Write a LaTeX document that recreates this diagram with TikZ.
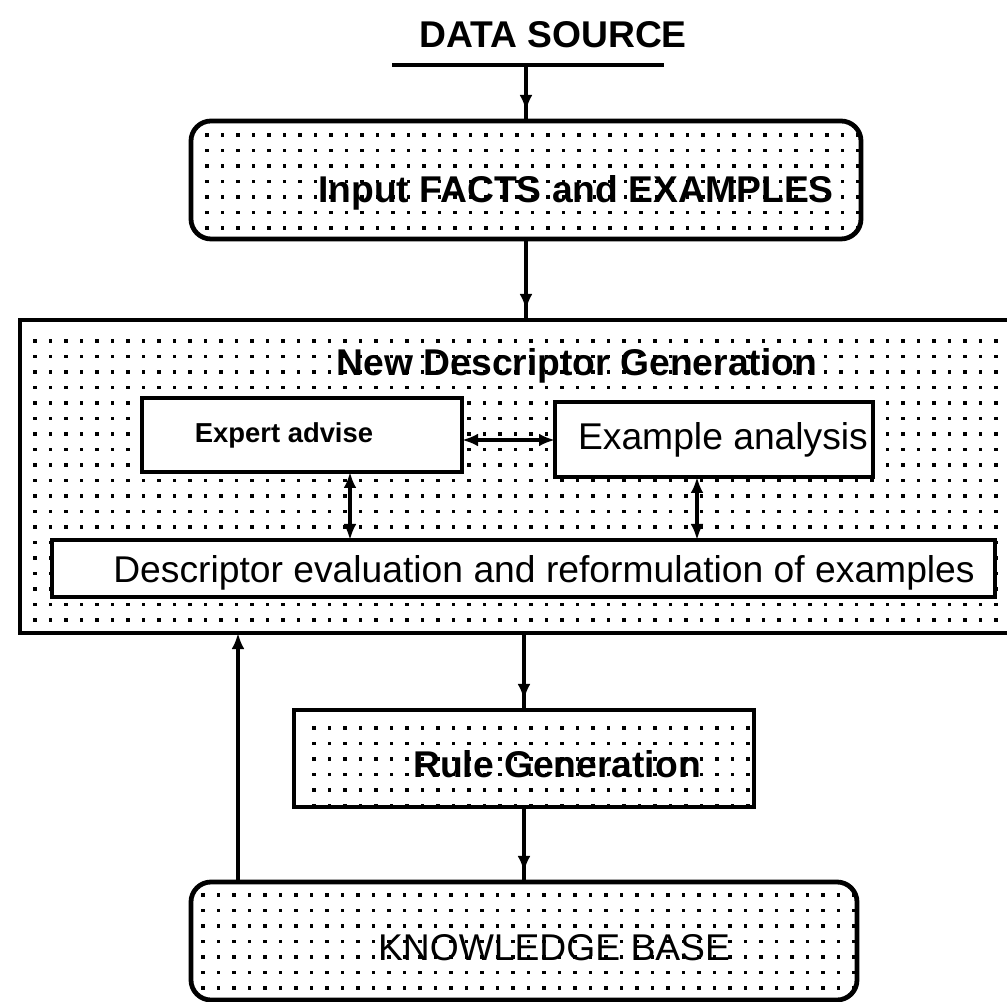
\documentclass[tikz,border=0pt]{standalone}
\usepackage{fontspec}
\setmainfont{Liberation Sans}
\usetikzlibrary{arrows.meta}

\begin{document}
\begin{tikzpicture}[x=0.25mm, y=-0.25mm,
  % heavy frames of the main stages
  frame/.style={draw, line width=3.4pt, fill=white, inner sep=0pt, outer sep=0pt},
  % thin white boxes inside the descriptor stage
  inbox/.style={draw, line width=2.4pt, fill=white, inner sep=0pt, outer sep=0pt},
  % screened background: a grid of small square dots clipped to the shape
  dots/.style n args={4}{path picture={
      \foreach \i in {0,...,#1}{\foreach \j in {0,...,#2}{
        \fill[black, sharp corners] ([shift={({\i*3.875mm+#3*0.25mm-0.4mm},{-\j*3.875mm-#4*0.25mm+0.4mm})}]path picture bounding box.north west)
          rectangle ++(0.8mm,-0.8mm);}}}},
  lbl/.style={anchor=base, inner sep=0pt, font=\fontsize{26.5}{30}\selectfont},
  blbl/.style={lbl, font=\fontsize{26.5}{30}\selectfont\bfseries},
  tip/.tip={Latex[length=4mm,width=3.2mm]},
  flow/.style={line width=2.2pt, postaction={draw, line width=2.2pt, -tip, shorten >=2.5mm}},
  link/.style={line width=2.2pt, tip-tip}
]
\useasboundingbox (0,0) rectangle (1007,1002);
\clip (0,0) rectangle (1007,1002);

% ---- title ----
\node[blbl] (ds) at (553,48) {DATA SOURCE};
\coordinate (dsl) at (392,65);
\coordinate (dsr) at (664,65);
\draw[line width=3.4pt] (dsl) -- (dsr);

% ---- input stage ----
\node[frame, rounded corners=5mm, minimum width=167.5mm, minimum height=29.5mm,
      dots={43}{7}{16}{14}] (input) at (526,180) {};
\node[blbl] (inputtxt) at (576,203) {Input FACTS and EXAMPLES};

% ---- descriptor generation stage ----
\node[frame, minimum width=248.75mm, minimum height=78.25mm,
      dots={64}{20}{15}{21}] (ndg) at (517.5,476.5) {};
\node[blbl] (ndgtxt) at (577,376) {New Descriptor Generation};

\node[inbox, minimum width=80mm, minimum height=18.5mm] (expert) at (302,435) {};
\node[lbl, font=\fontsize{19.5}{22}\selectfont\bfseries] (experttxt) at (284,443) {Expert advise};

\node[inbox, minimum width=79.5mm, minimum height=18.75mm] (example) at (714,439.5) {};
\node[lbl] (exampletxt) at (723,450) {Example analysis};

\node[inbox, minimum width=235.75mm, minimum height=14.25mm] (eval) at (523.5,568.5) {};
\node[lbl, anchor=base west] (evaltxt) at (113,583) {Descriptor evaluation and reformulation of examples};

% ---- rule generation stage ----
\node[frame, minimum width=115mm, minimum height=24.25mm,
      dots={29}{6}{20}{18}] (rule) at (524,758.5) {};
\node[blbl] (ruletxt) at (557,777) {Rule Generation};

% ---- knowledge base ----
\node[frame, rounded corners=5mm, minimum width=166.5mm, minimum height=29.5mm,
      dots={43}{7}{12}{13}] (kb) at (524,941) {};
\node[lbl] (kbtxt) at (554,960) {KNOWLEDGE BASE};

% ---- connectors ----
\draw[flow] (input.north |- dsl) -- (input.north);
\draw[flow] (input.south) -- (input.south |- ndg.north);
\draw[flow] (rule.north |- ndg.south) -- (rule.north);
\draw[flow] (rule.south) -- (kb.north -| rule.south);

\coordinate (hy) at (0,440);
\draw[link] (expert.east |- hy) -- (example.west |- hy);

\coordinate (v1) at (350,0);
\coordinate (v2) at (697,0);
\draw[link] (expert.south -| v1) -- (eval.north -| v1);
\draw[link] (example.south -| v2) -- (eval.north -| v2);

\coordinate (fb) at (238,0);
\draw[line width=2.2pt, -tip] (kb.north -| fb) -- (ndg.south -| fb);

\end{tikzpicture}
\end{document}
